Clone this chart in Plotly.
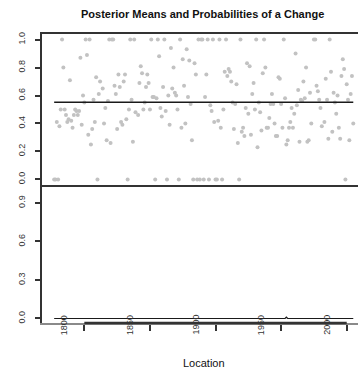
import plotly.graph_objects as go

# Observed data (Location, value)
years = [
    1777, 1778, 1779, 1780, 1781, 1782, 1783, 1784, 1785, 1786, 1787, 1788, 1789, 1790,
    1791, 1792, 1793, 1794, 1795, 1796, 1797, 1798, 1799, 1800, 1801, 1802, 1803, 1804,
    1805, 1806, 1807, 1808, 1809, 1810, 1811, 1812, 1814, 1815, 1816, 1817, 1818, 1819,
    1820, 1821, 1822, 1823, 1824, 1825, 1826, 1827, 1828, 1829, 1830, 1831, 1832, 1833,
    1834, 1835, 1836, 1837, 1838, 1839, 1841, 1842, 1843, 1844, 1845, 1846, 1847, 1848,
    1849, 1850, 1851, 1852,
    1853, 1854, 1855, 1856, 1857, 1858, 1859, 1860, 1861, 1862, 1863, 1864, 1865, 1866,
    1867, 1868, 1869, 1870, 1871, 1872, 1873, 1874, 1875, 1876, 1877, 1878, 1879, 1880,
    1881, 1882, 1883, 1884, 1885, 1886, 1887, 1888, 1889, 1890, 1891, 1892, 1893, 1894,
    1895, 1896, 1897, 1898, 1899, 1900, 1901, 1902, 1903, 1904, 1905, 1906, 1907, 1908,
    1909, 1910, 1911, 1912, 1913, 1914, 1915, 1916, 1917, 1918, 1919, 1920, 1921, 1922,
    1923, 1924, 1925, 1926, 1927, 1928, 1929, 1930,
    1931, 1932, 1933, 1934, 1935, 1936, 1937, 1938, 1939, 1940, 1941, 1942, 1943, 1944,
    1945, 1946, 1947, 1948, 1949, 1950, 1951, 1952, 1953, 1954, 1955, 1956, 1957, 1958,
    1959, 1960, 1961, 1962, 1963, 1964, 1965, 1966, 1967, 1968, 1969, 1970, 1971, 1972,
    1973, 1975, 1976, 1977, 1978, 1979, 1980, 1981, 1983, 1984, 1985, 1986, 1987, 1988,
    1989, 1990, 1991, 1992, 1993, 1994, 1995, 1996, 1997, 1998, 1999, 2000, 2001, 2002,
    2003, 2004, 2005,
]
values = [
    0.00, 0.00, 0.41, 0.00, 0.38, 0.50, 1.00, 0.80, 0.50, 0.46, 0.41, 0.43, 0.71, 0.42,
    0.37, 0.46, 0.50, 0.49, 0.46, 0.49, 0.87, 0.39, 0.60, 0.55, 1.00, 0.89, 0.32, 1.00,
    0.25, 0.36, 0.57, 0.41, 0.73, 0.00, 0.61, 0.70, 0.65, 0.40, 0.51, 0.28, 0.56, 1.00,
    0.26, 1.00, 1.00, 0.67, 0.61, 0.36, 0.75, 0.66, 0.41, 0.39, 0.70, 0.75, 0.43, 0.00,
    0.50, 1.00, 0.57, 0.27, 1.00, 0.48, 0.46, 0.69, 0.81, 0.76, 0.50, 0.55, 0.66, 0.75,
    0.69, 0.50, 1.00, 0.59,
    0.59, 0.00, 0.58, 1.00, 0.88, 0.51, 0.45, 0.66, 1.00, 0.49, 0.00, 0.60, 0.39, 0.94,
    0.65, 0.80, 0.62, 0.60, 0.50, 0.00, 1.00, 0.37, 0.86, 0.67, 0.40, 0.93, 0.59, 0.85,
    0.54, 0.28, 0.00, 0.83, 0.75, 0.00, 1.00, 0.00, 1.00, 1.00, 0.00, 0.59, 0.75, 1.00,
    0.00, 0.53, 0.49, 1.00, 0.41, 0.00, 0.00, 0.42, 1.00, 0.37, 0.00, 0.50, 0.77, 1.00,
    0.74, 0.79, 0.77, 0.70, 0.55, 0.36, 0.54, 0.68, 0.26, 0.00, 1.00, 0.34, 0.37, 0.31,
    0.51, 0.83, 0.47, 0.81, 0.32, 0.61, 0.69, 0.50,
    1.00, 0.23, 0.55, 0.48, 0.35, 0.76, 1.00, 0.80, 0.37, 0.37, 0.44, 0.54, 0.61, 0.54,
    0.40, 0.31, 0.31, 0.73, 0.72, 0.54, 0.37, 1.00, 0.58, 0.25, 0.28, 0.37, 0.41, 0.51,
    0.37, 0.47, 0.90, 0.53, 0.64, 0.27, 0.57, 0.56, 0.70, 0.58, 0.80, 0.27, 0.28, 0.62,
    0.40, 1.00, 1.00, 0.67, 0.63, 0.57, 0.51, 0.38, 0.41, 0.72, 0.57, 0.29, 1.00, 0.77,
    0.34, 0.62, 0.55, 0.47, 0.60, 0.37, 0.29, 0.74, 0.86, 0.79, 0.00, 0.68, 0.57, 0.28,
    0.61, 0.74, 0.40,
]

# Posterior means (constant) and posterior probabilities of a change
mean_years = [1777, 2005]
mean_values = [0.552, 0.552]
prob_years = [1777, 1953, 1954, 1955, 2005]
prob_values = [0.0, 0.0, 0.01, 0.0, 0.0]

tick_years = [1800, 1850, 1900, 1950, 2000]
top_ticks = [0.0, 0.2, 0.4, 0.6, 0.8, 1.0]
bottom_ticks = [0.0, 0.3, 0.6, 0.9]

FONT = "Liberation Sans, Arial, Helvetica, sans-serif"
DARK = "#333333"

fig = go.Figure()
fig.add_trace(go.Scatter(x=years, y=values, mode="markers",
                         marker=dict(size=4, color="#c2c2c2"),
                         xaxis="x", yaxis="y", hoverinfo="skip"))
fig.add_trace(go.Scatter(x=mean_years, y=mean_values, mode="lines",
                         line=dict(color="#1a1a1a", width=1.5),
                         xaxis="x", yaxis="y", hoverinfo="skip"))
fig.add_trace(go.Scatter(x=prob_years, y=prob_values, mode="lines",
                         line=dict(color="#1a1a1a", width=1.2),
                         xaxis="x2", yaxis="y2", hoverinfo="skip"))

xr = [1767.5, 2008.6]
xdom = [0.1165, 1.0]

yax_common = dict(showline=True, linecolor=DARK, linewidth=2, ticks="outside",
                  ticklen=5, tickwidth=1.5, tickcolor=DARK, showgrid=False,
                  zeroline=False, tickangle=-90, tickformat=".1f",
                  tickfont=dict(size=9, color=DARK, family=FONT),
                  ticklabelstandoff=6)

fig.update_layout(
    width=358, height=376,
    margin=dict(l=0, r=0, t=0, b=0, autoexpand=False),
    paper_bgcolor="white", plot_bgcolor="white",
    showlegend=False,
    font=dict(family=FONT, color=DARK),
    xaxis=dict(domain=xdom, range=xr, anchor="y", showline=True, mirror=True,
               linecolor=DARK, linewidth=2, showticklabels=False, ticks="",
               showgrid=False, zeroline=False),
    yaxis=dict(domain=[0.508, 0.9096], range=[-0.04, 1.04], anchor="x",
               tickvals=top_ticks, **yax_common),
    xaxis2=dict(domain=xdom, range=xr, anchor="y2", showline=True,
                linecolor="#8a8a8a", linewidth=1.5, tickvals=tick_years,
                ticks="outside", ticklen=6, tickwidth=2, tickcolor=DARK,
                showticklabels=False, showgrid=False, zeroline=False),
    yaxis2=dict(domain=[0.141, 0.508], range=[-0.035, 1.04], anchor="x2",
                tickvals=bottom_ticks, **yax_common),
    shapes=[dict(type="line", xref="x2", yref="y2 domain",
                 x0=tick_years[0], x1=tick_years[-1], y0=0, y1=0,
                 line=dict(color=DARK, width=2.5))],
)

annotations = [
    dict(text="Posterior Means and Probabilities of a Change", xref="paper", yref="paper",
         x=0.567, y=1 - 14 / 376, xanchor="center", yanchor="middle", showarrow=False,
         font=dict(size=11, family=FONT, color="#111", weight="bold")),
    dict(text="Location", xref="paper", yref="paper", x=0.569, y=1 - 363 / 376,
         xanchor="center", yanchor="middle", showarrow=False,
         font=dict(size=11, family=FONT, color="#111")),
]
for yr in tick_years:
    annotations.append(dict(text=str(yr), xref="x2", yref="paper", x=yr,
                            y=1 - 325 / 376, xanchor="center", yanchor="middle",
                            textangle=-90, xshift=-20, showarrow=False,
                            font=dict(size=9, family=FONT, color=DARK)))
fig.update_layout(annotations=annotations)

fig.write_html("out.html")
